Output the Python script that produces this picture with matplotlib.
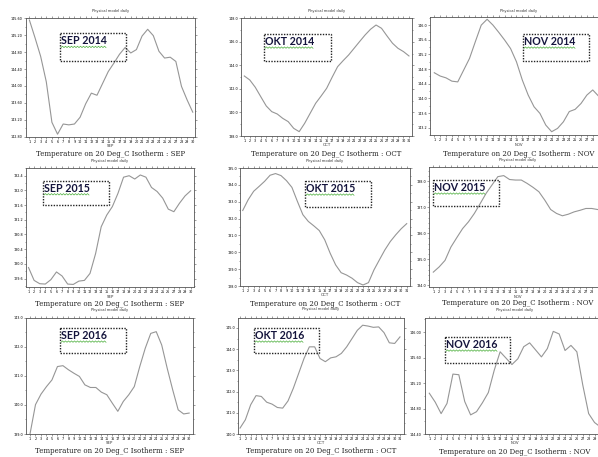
import numpy as np
import matplotlib
matplotlib.use("Agg")
import matplotlib.pyplot as plt
from matplotlib.patches import Rectangle
from matplotlib.ticker import MultipleLocator, FormatStrFormatter

# Daily temperature on the 20 degC isotherm, one list per month
sep_2014 = [145.56, 145.14, 144.70, 144.10, 143.14, 142.86, 143.10, 143.08, 143.10, 143.26,
            143.58, 143.83, 143.78, 144.06, 144.34, 144.54, 144.75, 144.91, 144.78, 144.86,
            145.18, 145.34, 145.19, 144.82, 144.66, 144.68, 144.58, 143.99, 143.67, 143.38]
okt_2014 = [143.10, 142.76, 142.14, 141.34, 140.55, 140.07, 139.87, 139.50, 139.22, 138.65,
            138.37, 139.08, 139.93, 140.78, 141.40, 142.05, 142.99, 143.89, 144.40, 144.88,
            145.45, 146.02, 146.58, 147.07, 147.43, 147.15, 146.50, 145.88, 145.45, 145.17,
            144.80]
nov_2014 = [144.70, 144.61, 144.56, 144.47, 144.45, 144.77, 145.09, 145.55, 146.00, 146.16,
            146.00, 145.80, 145.59, 145.36, 145.00, 144.50, 144.09, 143.77, 143.59, 143.27,
            143.09, 143.18, 143.36, 143.64, 143.70, 143.86, 144.09, 144.23, 144.06, 143.90]
sep_2015 = [129.90, 129.55, 129.46, 129.45, 129.57, 129.78, 129.67, 129.45, 129.44, 129.53,
            129.55, 129.74, 130.28, 131.01, 131.33, 131.56, 131.92, 132.36, 132.40, 132.31,
            132.42, 132.36, 132.08, 131.97, 131.79, 131.49, 131.42, 131.65, 131.85, 131.99]
okt_2015 = [132.48, 133.12, 133.62, 133.91, 134.21, 134.57, 134.67, 134.55, 134.25, 133.85,
            133.02, 132.23, 131.83, 131.57, 131.29, 130.74, 129.94, 129.25, 128.79, 128.65,
            128.46, 128.20, 128.06, 128.20, 128.95, 129.55, 130.14, 130.64, 131.04, 131.40,
            131.70]
nov_2015 = [134.51, 134.71, 134.96, 135.47, 135.83, 136.18, 136.44, 136.76, 137.14, 137.53,
            137.85, 138.17, 138.21, 138.06, 138.04, 138.04, 137.91, 137.76, 137.59, 137.27,
            136.91, 136.76, 136.67, 136.73, 136.82, 136.88, 136.95, 136.95, 136.91, 136.88]
sep_2016 = [139.00, 140.01, 140.37, 140.63, 140.86, 141.32, 141.35, 141.21, 141.09, 140.98,
            140.69, 140.60, 140.60, 140.44, 140.35, 140.06, 139.78, 140.12, 140.35, 140.63,
            141.32, 141.95, 142.46, 142.52, 142.06, 141.26, 140.52, 139.83, 139.69, 139.72]
okt_2016 = [140.28, 140.67, 141.38, 141.81, 141.77, 141.50, 141.41, 141.25, 141.22, 141.56,
            142.16, 142.86, 143.56, 144.11, 144.11, 143.56, 143.41, 143.59, 143.64, 143.80,
            144.11, 144.50, 144.89, 145.13, 145.09, 145.03, 145.05, 144.78, 144.30, 144.27,
            144.58]
nov_2016 = [145.04, 144.90, 144.72, 144.88, 145.34, 145.33, 144.91, 144.70, 144.75, 144.89,
            145.05, 145.40, 145.69, 145.59, 145.49, 145.58, 145.77, 145.83, 145.72, 145.61,
            145.74, 146.01, 145.97, 145.71, 145.79, 145.69, 145.17, 144.72, 144.58, 144.51]

box_labels = ["SEP 2014", "OKT 2014", "NOV 2014",
              "SEP 2015", "OKT 2015", "NOV 2015",
              "SEP 2016", "OKT 2016", "NOV 2016"]
months = ["SEP", "OCT", "NOV"]

W, H = 598, 457
fig = plt.figure(figsize=(W / 100, H / 100), dpi=100)

# overlay in pixel coordinates for captions, boxes etc.
ov = fig.add_axes([0, 0, 1, 1], zorder=10)
ov.set_xlim(0, W)
ov.set_ylim(H, 0)
ov.axis("off")
ov.patch.set_alpha(0)

LINE = "#969696"
FRAME = "#555555"


def panel(frame, xlim, ylim, ystep, fmt, yminor, values, month, box, label, cap_y, title_y):
    l, t, r, b = frame
    ax = fig.add_axes([l / W, 1 - b / H, (r - l) / W, (b - t) / H])
    days = np.arange(1, len(values) + 1)
    ax.plot(days, values, color=LINE, lw=0.8)
    ax.set_xlim(*xlim)
    ax.set_ylim(*ylim)
    ax.set_xticks(days)
    # day labels that would land past the right edge of the page are left blank
    px_per_day = (r - l) / (xlim[1] - xlim[0])
    ax.set_xticklabels([str(d) if l + (d - xlim[0]) * px_per_day < W - 2 else "" for d in days])
    ax.yaxis.set_major_locator(MultipleLocator(ystep))
    ax.yaxis.set_minor_locator(MultipleLocator(yminor))
    ax.yaxis.set_major_formatter(FormatStrFormatter(fmt))
    ax.tick_params(which="both", direction="out", top=True, right=True,
                   labelsize=2.4, length=1.3, width=0.4, pad=1, color=FRAME)
    ax.tick_params(which="minor", length=0.8)
    for s in ax.spines.values():
        s.set_color(FRAME)
        s.set_linewidth(0.6)

    cx = (l + r) / 2
    ov.text(cx, title_y, "Physical model daily", fontsize=2.6, ha="center", va="center", color="#333333")
    ov.text(cx, b + 9.5, month, fontsize=2.8, ha="center", va="center", color="#333333")
    ov.text(cx, cap_y, "Temperature on 20 Deg_C Isotherm : " + month, family="DejaVu Serif",
            fontsize=5.0, ha="center", va="center", color="#222222")

    # dotted annotation box with its label and a wavy underline
    bx0, by0, bx1, by1 = box
    ov.add_patch(Rectangle((bx0, by0), bx1 - bx0, by1 - by0, fill=False,
                           ls=(0, (1, 1)), lw=1.0, ec="#222222"))
    txt = ov.text(bx0 + 1, by0 + 10.8, label, family="Lato", weight="bold", fontsize=7.7,
                  ha="left", va="baseline", color="#14143c")
    fig.canvas.draw()
    bb = txt.get_window_extent()
    wx = np.arange(bx0 + 1, bx0 + 1 + bb.width, 1.5)
    wy = by0 + 13.6 + 0.7 * (-1) ** np.arange(len(wx))
    ov.plot(wx, wy, color="#4caf3c", lw=0.5)
    return ax


# frame (l, t, r, b), xlim, ylim, tick step, format, minor step, data, month, box, label, caption y, title y
panel((26, 18.3, 195, 136.7), (0.4, 30.4), (142.80, 145.60), 0.4, "%.2f", 0.2, sep_2014,
      months[0], (60, 33.3, 126, 61), box_labels[0], 154, 11)
panel((241, 18.3, 412, 136), (0.4, 31.55), (138.0, 148.0), 2.0, "%.1f", 1.0, okt_2014,
      months[1], (264, 34, 331, 61), box_labels[1], 154, 11)
panel((430, 16.7, 608, 135), (0.27, 30.6), (143.0, 146.23), 0.4, "%.1f", 0.2, nov_2014,
      months[2], (523, 34, 589, 61), box_labels[2], 154, 11)

panel((26, 168, 194, 287), (0.55, 30.6), (129.37, 132.61), 0.4, "%.1f", 0.2, sep_2015,
      months[0], (43, 180.7, 109, 205), box_labels[3], 304.5, 161)
panel((240, 168, 410, 286), (0.5, 31.6), (128.0, 135.0), 1.0, "%.1f", 0.5, okt_2015,
      months[1], (305, 181, 371, 207), box_labels[4], 304.5, 161)
panel((429, 167, 607, 287), (0.27, 30.6), (133.94, 138.54), 1.0, "%.1f", 0.2, nov_2015,
      months[2], (433, 180, 499, 206), box_labels[5], 303, 160)

panel((26, 317.7, 193, 434), (0.27, 30.7), (139.0, 143.0), 1.0, "%.1f", 0.5, sep_2016,
      months[0], (60, 328, 126, 353), box_labels[6], 451, 310)
panel((238, 318, 404, 434), (0.62, 31.75), (140.0, 145.47), 1.0, "%.1f", 0.5, okt_2016,
      months[1], (254, 328, 319, 353), box_labels[7], 451, 309)
panel((425, 318, 604, 434), (0.27, 30.6), (144.40, 146.22), 0.4, "%.2f", 0.2, nov_2016,
      months[2], (445, 337, 510, 363), box_labels[8], 451.5, 310)

fig.savefig("out.png", dpi=100)
